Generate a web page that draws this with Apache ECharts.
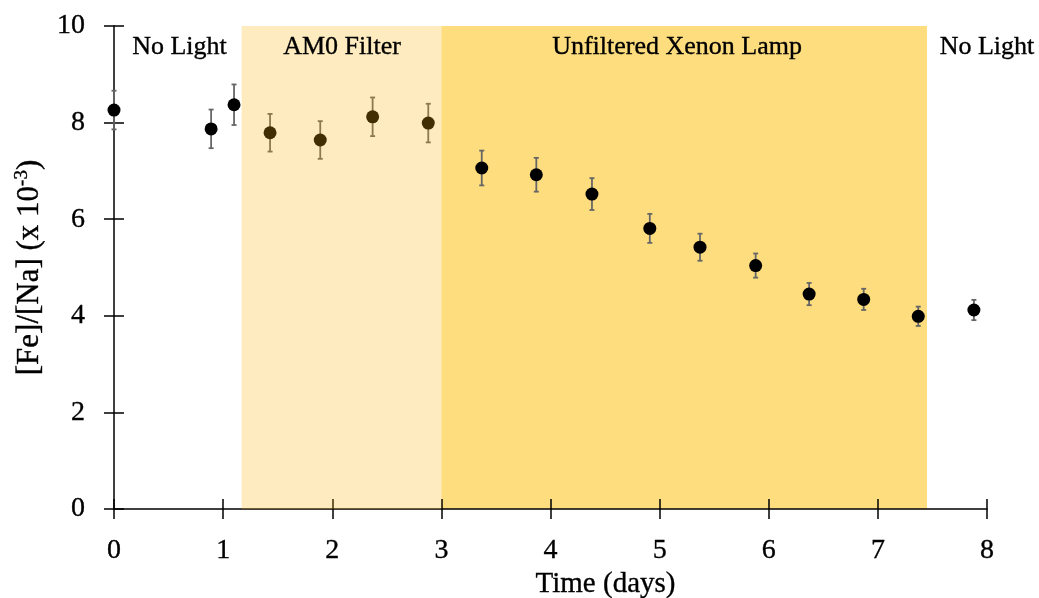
<!DOCTYPE html>
<html>
<head>
<meta charset="utf-8">
<script src="https://cdn.jsdelivr.net/npm/echarts@6/dist/echarts.min.js"></script>
<style>
  html, body { margin: 0; padding: 0; background: #ffffff; }
  #chart { width: 1039px; height: 598px; }
</style>
</head>
<body>
<div id="chart"></div>
<script>
// Measurements: elapsed time (days) vs iron/sodium ratio (x 10^-3)
const days     = [0, 0.89, 1.10, 1.43, 1.89, 2.37, 2.88, 3.37, 3.87, 4.38, 4.91, 5.37, 5.88, 6.37, 6.87, 7.37, 7.88];
const ratio    = [8.26, 7.87, 8.37, 7.79, 7.64, 8.12, 7.99, 7.06, 6.92, 6.52, 5.81, 5.42, 5.04, 4.45, 4.34, 3.99, 4.12];
const ratioErr = [0.40, 0.40, 0.42, 0.39, 0.39, 0.40, 0.40, 0.36, 0.35, 0.33, 0.30, 0.28, 0.25, 0.23, 0.22, 0.20, 0.21];

// Illumination periods (days)
const am0Span   = [1.17, 3.0];
const xenonSpan = [3.0, 7.45];
const regionNames   = ['No Light', 'AM0 Filter', 'Unfiltered Xenon Lamp', 'No Light'];
const regionCenters = [0.6, 2.09, 5.16, 8.0];

const FONT = '"Liberation Serif", "DejaVu Serif", serif';
const bandTop = 10.1;
const labelRow = 9.56;

const chart = echarts.init(document.getElementById('chart'), null, { renderer: 'canvas' });

// slightly heavier strokes for the serif text
const ink = { color: '#000', textBorderColor: '#000', textBorderWidth: 0.35 };

const axisCommon = {
  type: 'value',
  splitLine: { show: false },
  z: 5
};

function errorBar(params, api) {
  const x = api.value(0);
  const lo = api.coord([x, api.value(1)]);
  const hi = api.coord([x, api.value(2)]);
  const cap = 2.5;
  const style = { stroke: '#666666', lineWidth: 1.8 };
  return {
    type: 'group',
    children: [
      { type: 'line', shape: { x1: lo[0], y1: lo[1], x2: hi[0], y2: hi[1] }, style },
      { type: 'line', shape: { x1: lo[0] - cap, y1: lo[1], x2: lo[0] + cap, y2: lo[1] }, style },
      { type: 'line', shape: { x1: hi[0] - cap, y1: hi[1], x2: hi[0] + cap, y2: hi[1] }, style }
    ]
  };
}

const option = {
  backgroundColor: '#ffffff',
  animation: false,
  textStyle: { fontFamily: FONT },
  grid: { left: 114, right: 52, top: 26, bottom: 89, containLabel: false, outerBoundsMode: 'none' },
  xAxis: [
    Object.assign({}, axisCommon, {
      min: 0, max: 8, interval: 1,
      position: 'bottom',
      axisLine: { show: true, lineStyle: { color: '#000', width: 1.5 } },
      axisTick: { show: true, length: 10, lineStyle: { color: '#000', width: 1.5 } },
      axisLabel: Object.assign({ fontSize: 28, fontFamily: FONT, margin: 28 }, ink),
      name: 'Time (days)',
      nameLocation: 'middle',
      nameGap: 56,
      nameTextStyle: Object.assign({ fontSize: 29, fontFamily: FONT, padding: [0, 0, 0, 110] }, ink)
    }),
    Object.assign({}, axisCommon, {
      min: 0, max: 8, interval: 1,
      position: 'bottom',
      axisLine: { show: false },
      axisTick: { show: true, inside: true, length: 10, lineStyle: { color: '#000', width: 1.5 } },
      axisLabel: { show: false }
    })
  ],
  yAxis: [
    Object.assign({}, axisCommon, {
      min: 0, max: 10, interval: 2,
      position: 'left',
      axisLine: { show: true, lineStyle: { color: '#000', width: 1.5 } },
      axisTick: { show: true, length: 10, lineStyle: { color: '#000', width: 1.5 } },
      axisLabel: Object.assign({ fontSize: 28, fontFamily: FONT, margin: 29 }, ink),
      name: '[Fe]/[Na] (x 10{sup|-3})',
      nameLocation: 'middle',
      nameRotate: 90,
      nameGap: 68,
      nameTextStyle: Object.assign({
        fontSize: 31, fontFamily: FONT,
        rich: { sup: Object.assign({ fontSize: 19, fontFamily: FONT, padding: [0, 0, 14, 0] }, ink) }
      }, ink)
    }),
    Object.assign({}, axisCommon, {
      min: 0, max: 10, interval: 2,
      position: 'left',
      axisLine: { show: false },
      axisTick: { show: true, inside: true, length: 10, lineStyle: { color: '#000', width: 1.5 } },
      axisLabel: { show: false }
    })
  ],
  series: [
    {
      // xenon lamp period, drawn beneath the measurements
      type: 'line', data: [], clip: false, z: 1, silent: true,
      markArea: {
        silent: true, z: 1,
        itemStyle: { color: '#fedd7e', opacity: 1 },
        data: [[{ xAxis: xenonSpan[0], yAxis: 0 }, { xAxis: xenonSpan[1], yAxis: bandTop }]]
      }
    },
    {
      type: 'custom', z: 5.5, silent: true,
      renderItem: errorBar,
      data: days.map((d, i) => [d, ratio[i] - ratioErr[i], ratio[i] + ratioErr[i]])
    },
    {
      type: 'scatter', z: 6, silent: true,
      symbol: 'circle', symbolSize: 13,
      itemStyle: { color: '#000', opacity: 1 },
      data: days.map((d, i) => [d, ratio[i]])
    },
    {
      // AM0-filtered period, a translucent wash laid over the points
      type: 'line', data: [], clip: false, z: 7, silent: true,
      markArea: {
        silent: true, z: 7,
        itemStyle: { color: 'rgba(250, 182, 10, 0.26)', opacity: 1 },
        data: [[{ xAxis: am0Span[0], yAxis: 0 }, { xAxis: am0Span[1], yAxis: bandTop }]]
      }
    },
    {
      type: 'scatter', z: 8, silent: true, clip: false,
      symbolSize: 0,
      itemStyle: { opacity: 1 },
      label: Object.assign({
        show: true, position: 'inside',
        formatter: p => regionNames[p.dataIndex],
        fontSize: 26, fontFamily: FONT
      }, ink),
      data: regionCenters.map(c => [c, labelRow])
    }
  ]
};

chart.setOption(option);
</script>
</body>
</html>
